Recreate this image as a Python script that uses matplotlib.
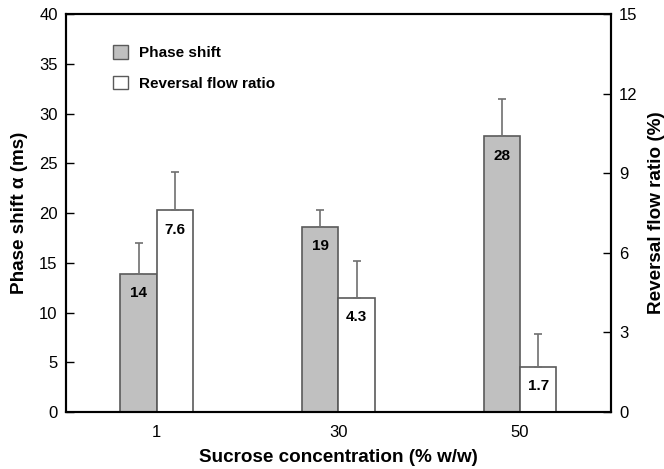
import matplotlib
matplotlib.use("Agg")
import matplotlib.pyplot as plt
import numpy as np
from matplotlib.patches import Patch

plt.rcParams['font.family'] = ['Liberation Sans', 'DejaVu Sans']

# Datos
concentrations = ["1", "30", "50"]
phase_shift = [13.9, 18.6, 27.7]
phase_err = [3.1, 1.7, 3.8]
phase_labels = ["14", "19", "28"]
reversal = [7.6, 4.3, 1.7]
reversal_err = [1.45, 1.4, 1.25]
reversal_labels = ["7.6", "4.3", "1.7"]

gray = "#c0c0c0"
edge = "#5a5a5a"
errc = "#707070"
w = 0.2
x = np.arange(len(concentrations))

fig = plt.figure(figsize=(6.64, 4.69), dpi=100)
ax = fig.add_axes([0.0994, 0.1215, 0.8206, 0.8485])
ax2 = ax.twinx()

ax.bar(x - w / 2, phase_shift, w, color=gray, edgecolor=edge, linewidth=1.2,
       yerr=[np.zeros(3), phase_err], ecolor=errc, capsize=3,
       error_kw=dict(elinewidth=1.2, capthick=1.2), zorder=2)
ax2.bar(x + w / 2, reversal, w, color="white", edgecolor=edge, linewidth=1.2,
        yerr=[np.zeros(3), reversal_err], ecolor=errc, capsize=3,
        error_kw=dict(elinewidth=1.2, capthick=1.2), zorder=2)

for xi, v, t in zip(x, phase_shift, phase_labels):
    ax.annotate(t, (xi - w / 2, v), xytext=(0, -14), textcoords="offset points",
                ha="center", va="center", fontsize=11, fontweight="bold")
for xi, v, t in zip(x, reversal, reversal_labels):
    ax2.annotate(t, (xi + w / 2, v), xytext=(0, -14), textcoords="offset points",
                 ha="center", va="center", fontsize=11, fontweight="bold")

ax.set_xlim(-0.5, 2.5)
ax.set_ylim(0, 40)
ax2.set_ylim(0, 15)
ax.set_yticks(np.arange(0, 41, 5))
ax2.set_yticks(np.arange(0, 16, 3))
ax.set_xticks(x)
ax.set_xticklabels(concentrations)

ax.tick_params(axis="y", direction="in", length=6, width=1, labelsize=12, pad=6)
ax2.tick_params(axis="y", direction="in", length=6, width=1, labelsize=12, pad=6)
ax.tick_params(axis="x", length=0, labelsize=12, pad=9)
for a in (ax, ax2):
    for s in a.spines.values():
        s.set_linewidth(1.5)

ax.set_xlabel("Sucrose concentration (% w/w)", fontsize=13.6, fontweight="bold", labelpad=7)
ax.set_ylabel("Phase shift α (ms)", fontsize=13.6, fontweight="bold", labelpad=8)
ax2.set_ylabel("Reversal flow ratio (%)", fontsize=13.6, fontweight="bold", labelpad=7)

handles = [Patch(facecolor=gray, edgecolor=edge, label="Phase shift"),
           Patch(facecolor="white", edgecolor=edge, label="Reversal flow ratio")]
ax.legend(handles=handles, loc="upper left", bbox_to_anchor=(0.075, 0.937), frameon=False,
          prop=dict(weight="bold", size=11), handlelength=1.0, handleheight=1.0,
          labelspacing=1.0, handletextpad=0.7, borderaxespad=0)

plt.savefig("out.png", dpi=100)
